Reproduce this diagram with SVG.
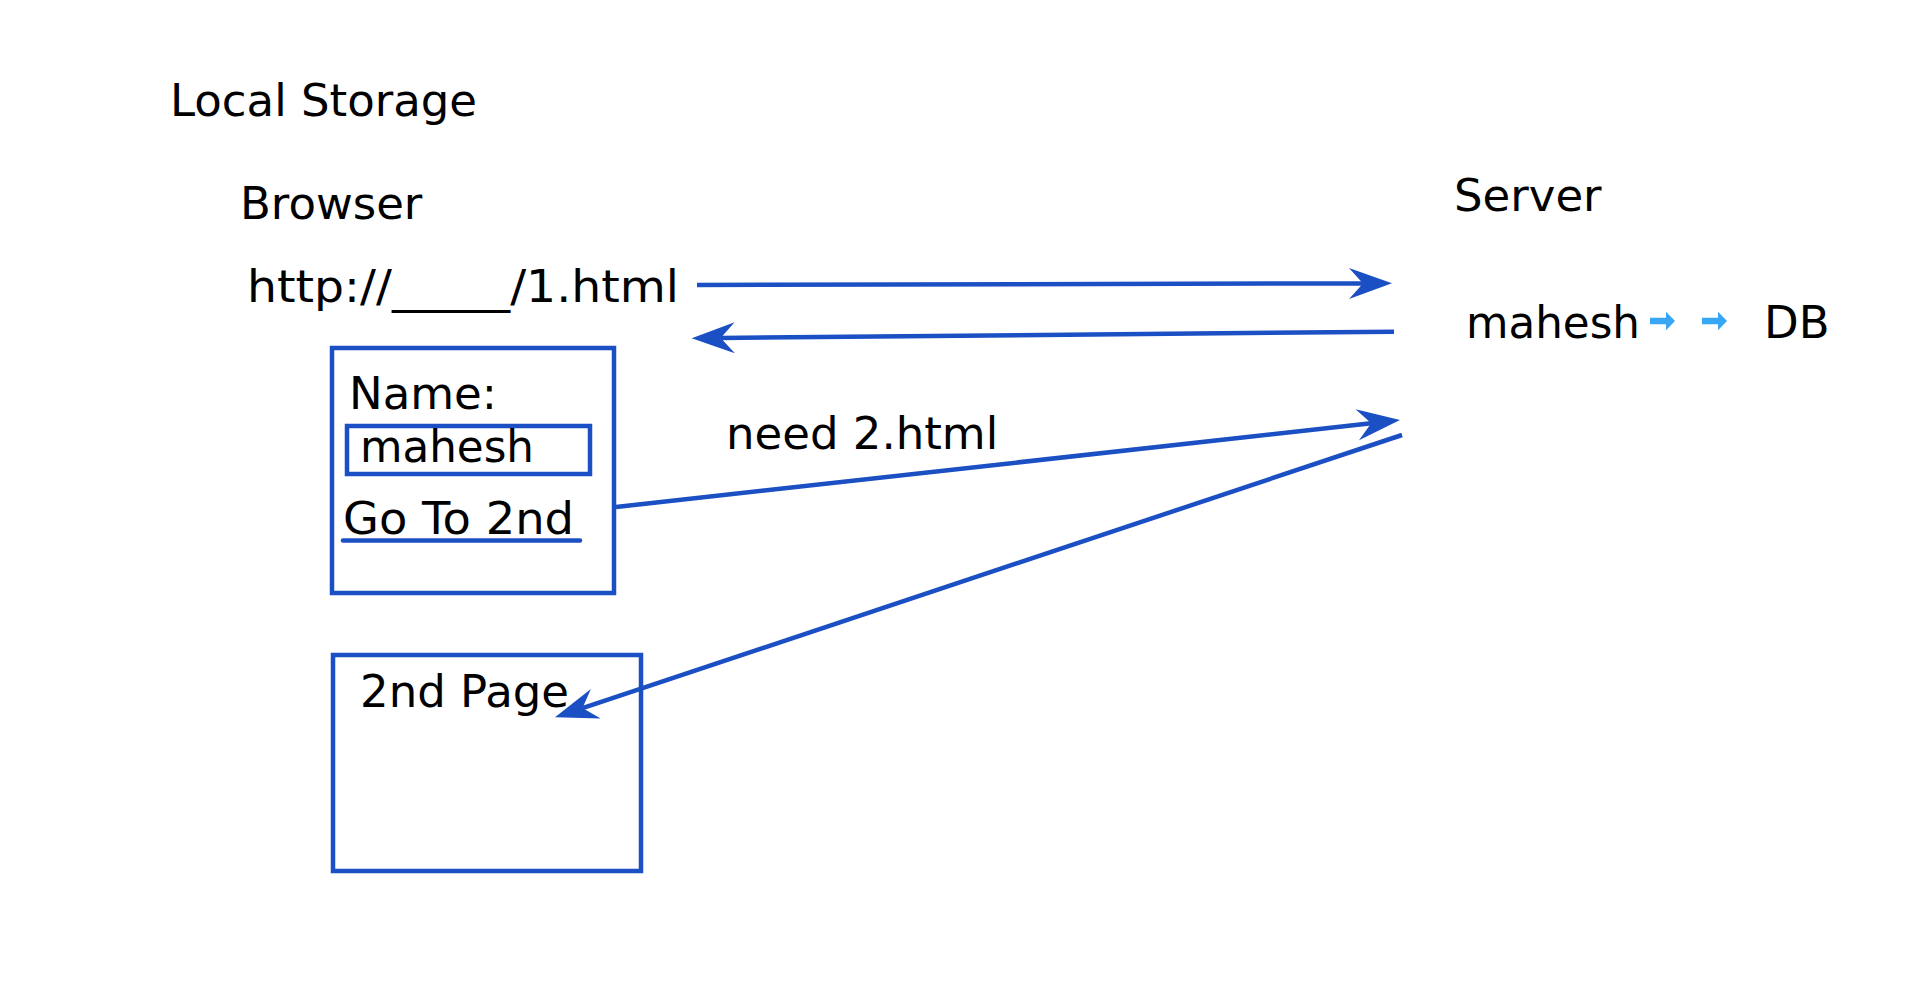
<svg xmlns="http://www.w3.org/2000/svg" xmlns:xlink="http://www.w3.org/1999/xlink" width="1920" height="991" viewBox="0 0 1920 991">
<style>
  text { font-family: "DejaVu Sans", "Liberation Sans", sans-serif; font-size: 45px; fill: #000; }
  .box { fill: none; stroke: #1b4fc4; stroke-width: 4.5; }
  .conn { fill: none; stroke: #1b4fc4; stroke-width: 4.5; marker-end: url(#head); }
  .small { fill: #36a6f5; }
</style>
<defs>
  <marker id="head" markerUnits="userSpaceOnUse" viewBox="-16 -17 48 34" refX="0" refY="0" markerWidth="48" markerHeight="34" orient="auto">
    <path d="M29,0 L-14,-15.5 L0,0 L-14,15.5 Z" fill="#1b4fc4"/>
  </marker>
  <path id="smallArrow" d="M0,-3.2 L16,-3.2 L16,-9.3 L25,0 L16,9.3 L16,3.2 L0,3.2 Z"/>
</defs>
<rect width="1920" height="991" fill="#fff"/>

<g id="title"><text x="170" y="116">Local Storage</text></g>
<g id="browser-label"><text x="240" y="218.5">Browser</text></g>
<g id="url"><text x="247" y="301.5" textLength="432" lengthAdjust="spacingAndGlyphs">http://_____/1.html</text></g>
<g id="server-label"><text x="1454" y="211">Server</text></g>
<g id="server-data">
  <text x="1466" y="338" textLength="174" lengthAdjust="spacingAndGlyphs">mahesh</text>
  <use xlink:href="#smallArrow" class="small" x="1650" y="321"/>
  <use xlink:href="#smallArrow" class="small" x="1702" y="321"/>
  <text x="1764" y="338">DB</text>
</g>
<g id="page1">
  <rect class="box" x="332" y="348" width="282" height="245"/>
  <text x="349" y="409">Name:</text>
  <rect class="box" x="347" y="426" width="243" height="48"/>
  <text x="360" y="461.5" textLength="174" lengthAdjust="spacingAndGlyphs">mahesh</text>
  <text x="343" y="534" textLength="231" lengthAdjust="spacingAndGlyphs">Go To 2nd</text>
  <line x1="343" y1="540.5" x2="580" y2="540.5" stroke="#1b4fc4" stroke-width="4.5" stroke-linecap="round"/>
</g>
<g id="page2">
  <rect class="box" x="333" y="655" width="308" height="216"/>
  <text x="360" y="706.5">2nd Page</text>
</g>
<g id="need-label"><text x="726" y="449">need 2.html</text></g>
<g id="connectors">
  <line class="conn" x1="697" y1="285" x2="1363" y2="283.4"/>
  <line class="conn" x1="1394" y1="331.7" x2="720.7" y2="338"/>
  <line class="conn" x1="616" y1="507" x2="1371.2" y2="423.2"/>
  <line class="conn" x1="1402" y1="435" x2="582.5" y2="708.1"/>
</g>
</svg>
